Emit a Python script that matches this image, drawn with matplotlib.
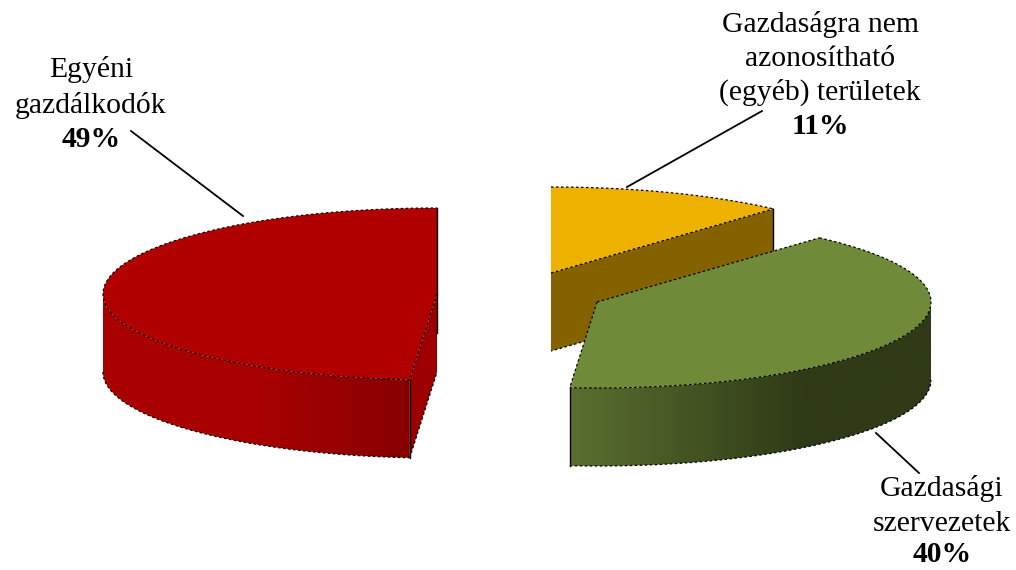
"""Exploded 3D-style pie of land use shares."""

from itertools import count

import matplotlib

matplotlib.use("Agg")
import matplotlib.pyplot as plt
import numpy as np
from matplotlib.colors import LinearSegmentedColormap
from matplotlib.patches import Polygon

# slices run clockwise from 12 o'clock, the printed labels are rounded
names = [
    ["Gazdaságra nem", "azonosítható", "(egyéb) területek"],
    ["Gazdasági", "szervezetek"],
    ["Egyéni", "gazdálkodók"],
]
shares = [11.6, 39.7, 48.7]
percent_labels = ["11%", "40%", "49%"]

top_colors = ["#eeb100", "#6f8b3a", "#b00000"]
cut_colors = ["#856200", None, "#9c0000"]
side_stops = [
    None,
    [(0.0, "#59702f"), (0.65, "#2f3a16"), (1.0, "#2f3a16")],
    [(0.0, "#a90000"), (0.5, "#a90000"), (1.0, "#870000")],
]

# layout in image pixels
centers = [(551, 273), (597, 302), (437, 294)]
label_x = [820, 942, 91]
label_baselines = [[32, 66, 100, 134], [496, 531, 562], [77, 113, 147]]
leaders = [
    [(627, 187), (762, 111)],
    [(876, 433), (919, 473)],
    [(131, 131), (243, 216)],
]
RX, RY, DEPTH = 334, 86, 78
DOWN = np.array([0, DEPTH])
RIM = {"color": "black", "lw": 0.9, "ls": (0, (2.0, 2.0))}
EDGE = {"color": "black", "lw": 1.0}
layer = count(2)


def rim_points(center, start, stop, n=160):
    angles = np.radians(np.linspace(start, stop, n))
    return np.column_stack(
        [center[0] + RX * np.cos(angles), center[1] - RY * np.sin(angles)]
    )


def rim_point(center, angle):
    return rim_points(center, angle, angle, 1)[0]


def draw_wall(ax, center, low, high, stops):
    """Outer wall of a slice, shaded left to right across its width."""
    rim = rim_points(center, low, high)
    outline = np.vstack([rim, rim[::-1] + DOWN])
    z = next(layer)
    cmap = LinearSegmentedColormap.from_list("side", stops)
    shade = np.linspace(0, 1, 256).reshape(1, -1)
    image = ax.imshow(
        shade,
        cmap=cmap,
        extent=[rim[:, 0].min(), rim[:, 0].max(), outline[:, 1].max(), outline[:, 1].min()],
        aspect="auto",
        interpolation="bilinear",
        zorder=z,
    )
    image.set_clip_path(Polygon(outline, transform=ax.transData))
    ax.plot(rim[:, 0], rim[:, 1] + DEPTH, zorder=z, **RIM)


def draw_slice(ax, idx, start, stop):
    center = np.array(centers[idx], dtype=float)

    if cut_colors[idx] is not None:
        # cut face on the end of the slice that faces the viewer
        cut_end = rim_point(center, stop if idx == 0 else start)
        z = next(layer)
        ax.add_patch(
            Polygon(
                [center, cut_end, cut_end + DOWN, center + DOWN],
                facecolor=cut_colors[idx],
                edgecolor="none",
                zorder=z,
            )
        )
        ax.plot(*zip(cut_end + DOWN, center + DOWN), zorder=z, **RIM)
        if idx == 0:
            ax.plot(*zip(cut_end, cut_end + DOWN), zorder=z, **EDGE)

    if side_stops[idx] is not None:
        # only the part of the wall below the horizontal axis can be seen
        low, high = max(stop, -180), min(start, 0)
        draw_wall(ax, center, low, high, side_stops[idx])
        front = rim_point(center, high if idx == 2 else low)
        ax.plot(*zip(front, front + DOWN), zorder=next(layer), **EDGE)

    rim = rim_points(center, start, stop)
    z = next(layer)
    ax.add_patch(
        Polygon(np.vstack([center, rim]), facecolor=top_colors[idx], edgecolor="none", zorder=z)
    )
    # the back edge of the red slice is solid, the yellow one has none
    if idx == 2:
        ax.plot(*zip(center, rim[-1]), zorder=z, **EDGE)
        ax.plot(*zip(center, center + [0, DEPTH / 2]), zorder=z, **EDGE)
    ax.plot(rim[:, 0], rim[:, 1], zorder=z, **RIM)
    ax.plot(*zip(center, rim[0]), zorder=z, **RIM) if idx != 0 else None
    ax.plot(*zip(center, rim[-1]), zorder=z, **RIM) if idx != 2 else None


fig = plt.figure(figsize=(10.16, 5.7), dpi=100)
ax = fig.add_axes([0, 0, 1, 1])

edges = 90 - np.cumsum([0] + shares) * 3.6
for idx in [2, 0, 1]:
    draw_slice(ax, idx, edges[idx], edges[idx + 1])

for idx, lines in enumerate(names):
    baselines = label_baselines[idx]
    for line, y in zip(lines, baselines):
        ax.text(label_x[idx], y, line, ha="center", va="baseline",
                family="Liberation Serif", fontsize=21.3, color="black", zorder=50)
    ax.text(label_x[idx], baselines[-1], percent_labels[idx], ha="center", va="baseline",
            family="Liberation Serif", fontsize=21.3, fontweight="bold", color="black", zorder=50)
    (x0, y0), (x1, y1) = leaders[idx]
    ax.plot([x0, x1], [y0, y1], color="black", lw=1.3, zorder=49)

ax.set_xlim(0, 1016)
ax.set_ylim(570, 0)
ax.axis("off")

fig.savefig("out.png", dpi=100)
plt.close(fig)
